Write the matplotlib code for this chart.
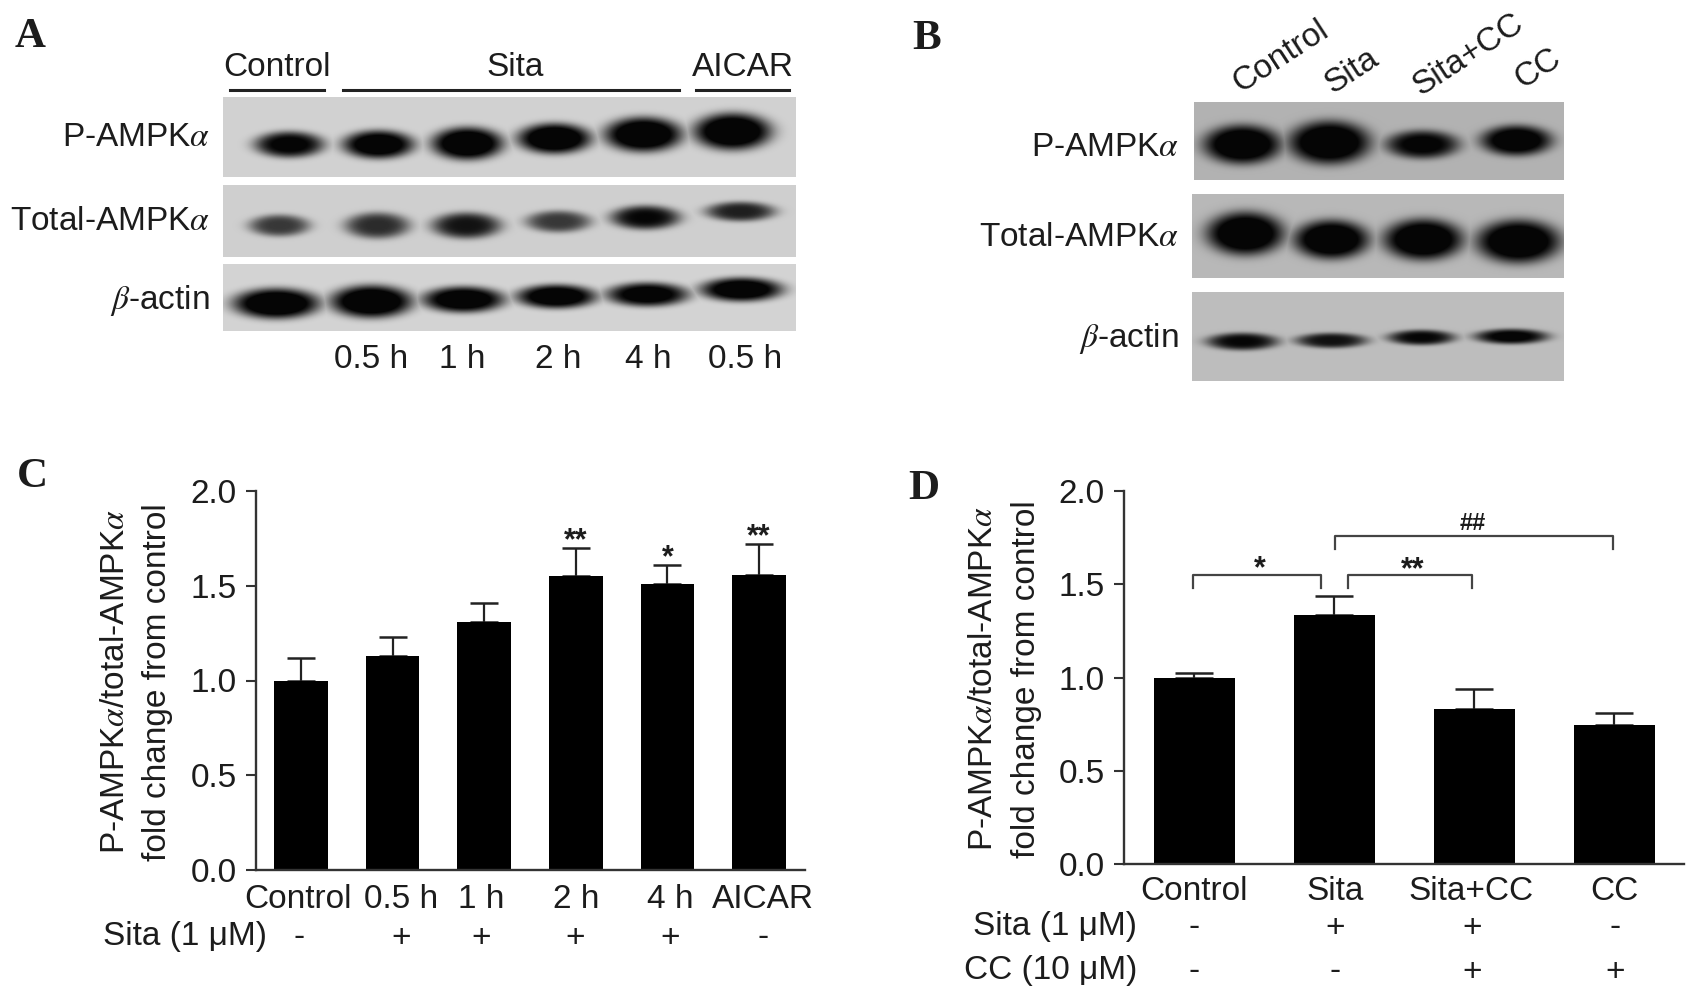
import numpy as np
import matplotlib

matplotlib.use("Agg")
import matplotlib.pyplot as plt

plt.rcParams["font.family"] = ["Liberation Sans", "DejaVu Sans"]
plt.rcParams["mathtext.fontset"] = "stix"

W, H = 1698, 1000
TEXT = "#1c1c1c"

# panel C
c_means = [1.0, 1.13, 1.31, 1.55, 1.51, 1.555]
c_err_tops = [1.12, 1.23, 1.41, 1.70, 1.61, 1.72]
c_labels = ["Control", "0.5 h", "1 h", "2 h", "4 h", "AICAR"]
c_sita = ["-", "+", "+", "+", "+", "-"]
c_sig = ["", "", "", "**", "*", "**"]

# panel D
d_means = [1.0, 1.335, 0.83, 0.745]
d_err_tops = [1.025, 1.435, 0.94, 0.81]
d_labels = ["Control", "Sita", "Sita+CC", "CC"]
d_sita = ["-", "+", "+", "-"]
d_cc = ["-", "-", "+", "+"]

y_ticks = [0.0, 0.5, 1.0, 1.5, 2.0]

# blot bands: lane x, band y, half width, half height, darkness
a_p = ([289, 378, 467, 554, 643, 732], [144, 144, 143, 138, 134, 131],
       [32, 33, 33, 34, 36, 36], [12, 13, 15, 14, 16, 17], [0.85, 0.95, 1, 1, 1, 1])
a_t = ([279, 377, 466, 558, 645, 740], [225, 225, 225, 221, 217, 211],
       [28, 30, 32, 30, 32, 32], [10, 12, 12, 10, 11, 9], [0.6, 0.65, 0.75, 0.6, 0.8, 0.7])
a_b = ([276, 371, 463, 556, 647, 741], [303, 301, 299, 296, 294, 289],
       [40, 38, 38, 37, 38, 38], [14, 15, 12, 11, 11, 11], [1, 1, 0.95, 0.95, 0.9, 0.95])
b_p = ([1242, 1329, 1422, 1516], [144, 142, 144, 140],
       [36, 38, 34, 33], [18, 20, 13, 14], [1, 1, 0.85, 0.95])
b_t = ([1245, 1331, 1423, 1518], [233, 239, 239, 241],
       [36, 35, 37, 39], [20, 18, 19, 20], [1, 1, 1, 1])
b_b = ([1242, 1331, 1421, 1511], [341, 340, 337, 336],
       [33, 33, 31, 34], [8, 7, 7, 7], [0.8, 0.75, 0.8, 0.85])


def px_axes(fig, left, top, right, bottom):
    return fig.add_axes([left / W, 1 - bottom / H, (right - left) / W, (bottom - top) / H])


def draw_blot(page, box, bands, bg):
    x0, y0, x1, y1 = box
    xx, yy = np.meshgrid(np.arange(x0, x1), np.arange(y0, y1))
    img = np.zeros(xx.shape)
    for x, y, hw, hh, dark in zip(*bands):
        r = ((xx - x) / (1.08 * hw)) ** 2 + ((yy - y) / (1.08 * hh)) ** 2
        img = np.maximum(img, np.minimum(1.0, 1.25 * dark * np.exp(-(r ** 2))))
    page.imshow(bg * (1 - img) + 0.02 * img, extent=(x0, x1, y1, y0), cmap="gray",
                vmin=0, vmax=1, aspect="auto", interpolation="bilinear", zorder=1)


def txt(page, x, y, s, size=24, ha="center", **kw):
    page.text(x, y, s, fontsize=size, ha=ha, va="center", color=TEXT, **kw)


def bar_panel(fig, box, xlim, width, means, tops, cap):
    ax = px_axes(fig, *box)
    x = np.arange(len(means))
    ax.bar(x, means, width=width, color="black", zorder=2)
    upper = np.array(tops) - np.array(means)
    ax.errorbar(x, means, yerr=[np.zeros(len(x)), upper], fmt="none", ecolor="#222222",
                elinewidth=1.6, capsize=cap, capthick=1.8, zorder=1)
    ax.set_xlim(*xlim)
    ax.set_ylim(0, 2.0)
    ax.set_xticks([])
    ax.set_yticks(y_ticks)
    ax.set_yticklabels([f"{v:.1f}" for v in y_ticks], fontsize=24, color=TEXT)
    ax.tick_params(axis="y", length=7, width=1.5, color="#333333", pad=7)
    for side in ["top", "right"]:
        ax.spines[side].set_visible(False)
    for side in ["left", "bottom"]:
        ax.spines[side].set_linewidth(1.7)
        ax.spines[side].set_color("#333333")
    ax.patch.set_alpha(0)
    return ax


fig = plt.figure(figsize=(W / 100, H / 100), dpi=100)
page = fig.add_axes([0, 0, 1, 1])
page.set_xlim(0, W)
page.set_ylim(H, 0)
page.axis("off")

# panel letters
for x, y, s in [(30, 37, "A"), (927, 39, "B"), (32, 477, "C"), (924, 489, "D")]:
    txt(page, x, y, s, size=31, family="Liberation Serif", fontweight="bold")

# panel A
draw_blot(page, (223, 97, 796, 177), a_p, 0.82)
draw_blot(page, (223, 185, 796, 257), a_t, 0.81)
draw_blot(page, (223, 264, 796, 331), a_b, 0.83)
for x0, x1 in [(230, 324), (343, 679), (696, 789)]:
    page.plot([x0, x1], [90, 90], color="#222222", lw=2.2, zorder=2)
for x, s in [(277, "Control"), (515, "Sita"), (743, "AICAR")]:
    txt(page, x, 67, s)
for y, s in [(138, r"P-AMPK$\alpha$"), (222, r"Total-AMPK$\alpha$"), (301, r"$\beta$-actin")]:
    txt(page, 210, y, s, ha="right")
for x, s in zip([371, 462, 558, 648, 745], ["0.5 h", "1 h", "2 h", "4 h", "0.5 h"]):
    txt(page, x, 360, s)

# panel B
draw_blot(page, (1194, 102, 1564, 180), b_p, 0.70)
draw_blot(page, (1192, 194, 1564, 278), b_t, 0.72)
draw_blot(page, (1192, 292, 1564, 381), b_b, 0.74)
for y, s in [(147, r"P-AMPK$\alpha$"), (238, r"Total-AMPK$\alpha$"), (339, r"$\beta$-actin")]:
    txt(page, 1179, y, s, ha="right")
for x, y, s in [(1281, 57, "Control"), (1352, 71, "Sita"), (1468, 55, "Sita+CC"), (1538, 69, "CC")]:
    txt(page, x, y, s, rotation=33, rotation_mode="anchor")

# panel C
c_spacing = 91.6
c_ax = bar_panel(fig, (256, 491, 805, 870), (-45 / c_spacing, 504 / c_spacing),
                 53.7 / c_spacing, c_means, c_err_tops, 10)
for x, s in zip(range(6), c_sig):
    if s:
        c_ax.annotate(s, (x, c_err_tops[x]), xytext=(0, -6), textcoords="offset points",
                      ha="center", va="bottom", fontsize=22, fontweight="bold", color=TEXT)
for x, s in zip([298, 401, 481, 576, 670, 763], c_labels):
    txt(page, x, 899, s)
txt(page, 267, 937, "Sita (1 \u03bcM)", ha="right")
for x, s in zip([299, 401, 481, 575, 670, 763], c_sita):
    txt(page, x, 938, s)
txt(page, 116, 682, r"P-AMPK$\alpha$/total-AMPK$\alpha$", size=24, rotation=90)
txt(page, 158, 682, "fold change from control", size=24, rotation=90)

# panel D
d_spacing = 140
d_ax = bar_panel(fig, (1124, 491, 1684, 864), (-70 / d_spacing, 490 / d_spacing),
                 81 / d_spacing, d_means, d_err_tops, 14)
for x0, x1, y_top, y_bot in [(1193, 1321, 575, 588), (1348, 1472, 575, 588), (1335, 1613, 536, 549)]:
    page.plot([x0, x0, x1, x1], [y_bot, y_top, y_top, y_bot], color="#444444", lw=1.6, zorder=2)
for x, y, s, size in [(1260, 569, "*", 22), (1413, 570, "**", 22), (1473, 524, "##", 17)]:
    txt(page, x, y, s, size=size, fontweight="bold")
for x, s in zip([1194, 1335, 1471, 1614], d_labels):
    txt(page, x, 892, s)
txt(page, 1137, 927, "Sita (1 \u03bcM)", ha="right")
txt(page, 1137, 971, "CC (10 \u03bcM)", ha="right")
for x, s in zip([1194, 1335, 1472, 1615], d_sita):
    txt(page, x, 928, s)
for x, s in zip([1194, 1335, 1472, 1615], d_cc):
    txt(page, x, 972, s)
txt(page, 984, 679, r"P-AMPK$\alpha$/total-AMPK$\alpha$", size=24, rotation=90)
txt(page, 1027, 679, "fold change from control", size=24, rotation=90)

fig.savefig("out.png", dpi=100)
plt.close(fig)
